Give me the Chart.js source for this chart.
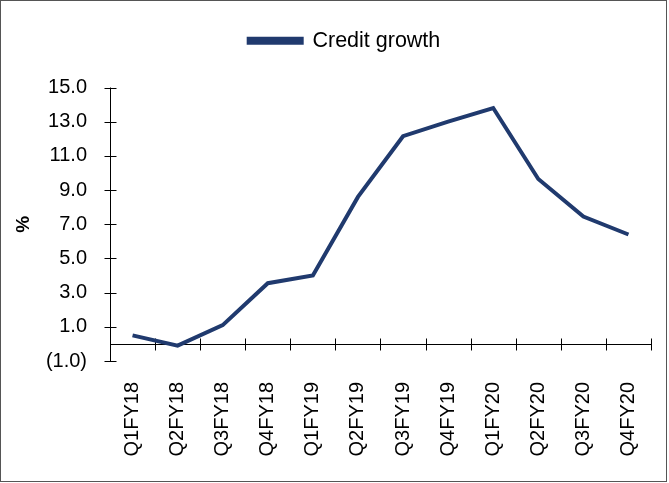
<!DOCTYPE html>
<html>
<head>
<meta charset="utf-8">
<script src="https://cdn.jsdelivr.net/npm/chart.js@4.4.0/dist/chart.umd.min.js"></script>
<style>
  html, body { margin: 0; padding: 0; background: #fff; }
  #wrap { width: 669px; height: 483px; }
</style>
</head>
<body>
<div id="wrap"><canvas id="chart"></canvas></div>
<script>
const quarters = ['Q1FY18', 'Q2FY18', 'Q3FY18', 'Q4FY18', 'Q1FY19', 'Q2FY19', 'Q3FY19', 'Q4FY19', 'Q1FY20', 'Q2FY20', 'Q3FY20', 'Q4FY20']
const creditGrowth = [0.5, -0.1, 1.1, 3.55, 4.0, 8.6, 12.15, 13.0, 13.8, 9.65, 7.45, 6.4]
const yTicks = [-1, 1, 3, 5, 7, 9, 11, 13, 15]

const navy = '#203a6e'
Chart.defaults.font.family = '"Liberation Sans", Arial, sans-serif'
Chart.defaults.font.size = 20
Chart.defaults.color = '#000'

// axis lines with ticks crossing both sides, x axis sits at zero
const axisLines = {
  id: 'axisLines',
  beforeDatasetsDraw(chart) {
    const { ctx, chartArea: a } = chart
    const x = chart.scales.x
    const y = chart.scales.y
    const xl = Math.round(a.left) + 0.5
    const y0 = Math.round(y.getPixelForValue(0)) + 0.5
    const step = (a.right - a.left) / quarters.length
    ctx.save()
    ctx.strokeStyle = '#000'
    ctx.lineWidth = 1
    ctx.beginPath()
    ctx.moveTo(xl, a.top)
    ctx.lineTo(xl, a.bottom)
    y.ticks.forEach(t => {
      const py = Math.round(y.getPixelForValue(t.value)) + 0.5
      ctx.moveTo(xl - 6, py)
      ctx.lineTo(xl + 6, py)
    })
    ctx.moveTo(xl, y0)
    ctx.lineTo(a.right, y0)
    for (let i = 0; i <= quarters.length; i++) {
      const px = Math.round(x.getPixelForValue(i) - step / 2) + 0.5
      ctx.moveTo(px, y0 - 6)
      ctx.lineTo(px, y0 + 6)
    }
    ctx.stroke()
    ctx.restore()
  },
  afterDraw(chart) {
    const ctx = chart.ctx
    ctx.save()
    ctx.strokeStyle = '#555'
    ctx.lineWidth = 1
    ctx.strokeRect(0.5, 0.5, chart.width - 3, chart.height - 2)
    ctx.restore()
  }
}

// move the legend up and a bit right, keep the plot top where it is
const legendShift = {
  id: 'legendShift',
  afterLayout(chart) {
    const l = chart.legend
    l.left += 16
    l.right += 16
    l.top -= 26
  }
}

new Chart(document.getElementById('chart'), {
  type: 'line',
  data: {
    labels: quarters,
    datasets: [
      {
        label: 'Credit growth',
        data: creditGrowth,
        borderColor: navy,
        backgroundColor: navy,
        borderWidth: 4,
        pointRadius: 0,
        tension: 0,
      },
    ],
  },
  options: {
    responsive: true,
    maintainAspectRatio: false,
    animation: false,
    layout: { padding: { left: 6, right: 18, top: 23, bottom: 0 } },
    plugins: {
      legend: {
        labels: { boxWidth: 53, boxHeight: 4, padding: 33, font: { size: 21.5 } },
      },
      tooltip: { enabled: false },
    },
    scales: {
      x: {
        offset: true,
        grid: { display: false },
        border: { display: false },
        ticks: { minRotation: 90, maxRotation: 90, autoSkip: false, padding: 13 },
        afterFit(s) { s.height = 122 },
      },
      y: {
        min: -1,
        max: 15,
        grid: { display: false, drawTicks: false },
        border: { display: false },
        afterBuildTicks(s) { s.ticks = yTicks.map(v => ({ value: v })) },
        ticks: {
          padding: 23,
          callback: v => v < 0 ? '(' + Math.abs(v).toFixed(1) + ')' : v.toFixed(1),
        },
        title: { display: true, text: '%', font: { size: 19, weight: 'bold' }, padding: 6 },
        afterFit(s) { s.width = 104 },
      },
    },
  },
  plugins: [axisLines, legendShift],
})
</script>
</body>
</html>
